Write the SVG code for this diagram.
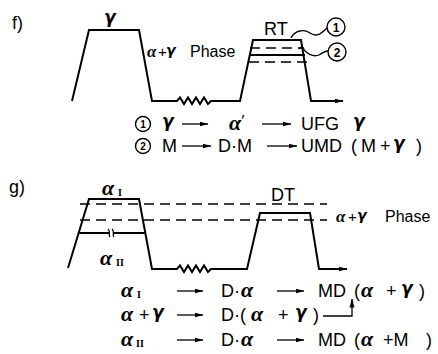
<svg xmlns="http://www.w3.org/2000/svg" width="438" height="354" viewBox="0 0 438 354">
<style>
.ln{fill:none;stroke:#000;stroke-width:2;stroke-linejoin:miter}
.th{fill:none;stroke:#000;stroke-width:1.3}
.ds{fill:none;stroke:#000;stroke-width:1.4;stroke-dasharray:10 6}
.t{font-family:"Liberation Sans",Arial,sans-serif;font-size:18px;fill:#000}
.g{font-family:"DejaVu Sans",sans-serif;font-style:italic;font-weight:bold;font-size:17px;fill:#000}
.a{font-family:"Liberation Serif","Times New Roman",serif;font-style:italic;font-weight:bold;font-size:22px;fill:#000}
.r{font-family:"Liberation Serif",serif;font-weight:bold;font-size:10px;fill:#000}
.ar{fill:none;stroke:#000;stroke-width:1.3;marker-end:url(#ah)}
.c{fill:none;stroke:#000;stroke-width:1.4}
.n{font-family:"Liberation Sans",Arial,sans-serif;font-size:12px;font-weight:bold;fill:#000;text-anchor:middle}
</style>
<defs>
<marker id="ah" markerWidth="9" markerHeight="6" refX="8.5" refY="3" orient="auto" markerUnits="userSpaceOnUse">
<path d="M0,0.5 L9,3 L0,5.5 Z" fill="#000"/>
</marker>
</defs>

<g id="panel-f">
<text class="t" x="12" y="29">f)</text>
<text class="g" x="104" y="23">γ</text>
<path class="ln" d="M72,101 L89,30 L139,30 L152,101 L177,101 L180,97.5 L184,104 L188,97.5 L192,104 L196,97.5 L200,104 L204,97.5 L208,104 L211,101 L240,101 L253,40 L301,40 L311,101 L343,101" marker-end="url(#ah)"/>
<path class="ds" d="M250,48 H304"/>
<path class="th" d="M249,55 H305" style="stroke-width:1.8"/>
<path class="ds" d="M249,62 H313"/>
<text class="a" x="147" y="57" style="font-size:17px">α</text>
<text class="t" x="158" y="57" style="font-size:15px">+</text>
<text class="g" x="166" y="55" style="font-size:14px">γ</text>
<text class="t" x="190" y="57" style="font-size:16px">Phase</text>
<text class="t" x="264" y="35">RT</text>
<g id="callout-1">
<circle class="c" cx="336" cy="27" r="9"/>
<text class="n" x="336" y="32">1</text>
<path class="th" d="M291,38 C295,30 304,29 310,33 C316,37 320,35 327,28"/>
</g>
<g id="callout-2">
<circle class="c" cx="337" cy="52" r="9"/>
<text class="n" x="337" y="57">2</text>
<path class="th" d="M299,49 C302,46 304,47 304,50 C309,55 314,57 319,55 C322,53 325,51 328,51"/>
</g>
<g id="f-line1">
<circle class="c" cx="143" cy="124" r="7.5"/>
<text class="n" x="143" y="128" style="font-size:10px">1</text>
<text class="g" x="162" y="127">γ</text>
<path class="ar" d="M182,124 H208"/>
<text class="a" x="229" y="130">α<tspan font-style="normal" font-weight="normal" font-size="17" dy="-4">′</tspan></text>
<path class="ar" d="M262,124 H291"/>
<text class="t" x="301" y="130">UFG</text>
<text class="g" x="353" y="127">γ</text>
</g>
<g id="f-line2">
<circle class="c" cx="143" cy="146" r="7.5"/>
<text class="n" x="143" y="150" style="font-size:10px">2</text>
<text class="t" x="162" y="152">M</text>
<path class="ar" d="M182,146 H211"/>
<text class="t" x="218" y="152">D·M</text>
<path class="ar" d="M267,146 H297"/>
<text class="t" x="301" y="152">UMD<tspan x="351">(</tspan><tspan x="361">M</tspan><tspan x="380">+</tspan></text>
<text class="g" x="393" y="149">γ</text>
<text class="t" x="416" y="152">)</text>
</g>
</g>

<g id="panel-g">
<text class="t" x="9" y="193">g)</text>
<text class="a" x="102" y="195">α</text>
<text class="r" x="118" y="196">I</text>
<text class="a" x="100" y="265">α</text>
<text class="r" x="116" y="266">II</text>
<path class="ln" d="M68,268 L89,199 L139,199 L152,269 L177,269 L180,265.5 L184,272 L188,265.5 L192,272 L196,265.5 L200,272 L204,265.5 L208,272 L211,269 L247,269 L260,213 L310,213 L319,269 L347,269" marker-end="url(#ah)"/>
<path class="ds" d="M80,204 H327"/>
<path class="ds" d="M80,220 H327"/>
<path class="th" d="M79,233 H109 M114,233 H145" style="stroke-width:1.8"/>
<path class="th" d="M108,229 C111,231 108,235 110,237 M112,229 C115,231 112,235 114,237"/>
<text class="t" x="271" y="201">DT</text>
<text class="a" x="336" y="222" style="font-size:17px">α</text>
<text class="t" x="348" y="222" style="font-size:15px">+</text>
<text class="g" x="357" y="220" style="font-size:14px">γ</text>
<text class="t" x="385" y="222" style="font-size:16px">Phase</text>
<g id="g-line1">
<text class="a" x="121" y="297">α</text>
<text class="r" x="137" y="298">I</text>
<path class="ar" d="M177,291 H203"/>
<text class="t" x="221" y="297">D·</text>
<text class="a" x="241" y="297">α</text>
<path class="ar" d="M277,291 H304"/>
<text class="t" x="318" y="297">MD<tspan x="354">(</tspan></text>
<text class="a" x="361" y="297">α</text>
<text class="t" x="386" y="297">+</text>
<text class="g" x="401" y="294">γ</text>
<text class="t" x="419" y="297">)</text>
</g>
<g id="g-line2">
<text class="a" x="121" y="321">α</text>
<text class="t" x="139" y="321">+</text>
<text class="g" x="152" y="318">γ</text>
<path class="ar" d="M177,315 H203"/>
<text class="t" x="221" y="321">D·(</text>
<text class="a" x="251" y="321">α</text>
<text class="t" x="278" y="321">+</text>
<text class="g" x="295" y="318">γ</text>
<text class="t" x="313" y="321">)</text>
<path class="ar" d="M323,316 H352 V299"/>
</g>
<g id="g-line3">
<text class="a" x="121" y="346">α</text>
<text class="r" x="136" y="347">II</text>
<path class="ar" d="M177,340 H203"/>
<text class="t" x="221" y="346">D·</text>
<text class="a" x="241" y="346">α</text>
<path class="ar" d="M277,340 H304"/>
<text class="t" x="318" y="346">MD<tspan x="354">(</tspan></text>
<text class="a" x="361" y="346">α</text>
<text class="t" x="383" y="346">+M<tspan x="426">)</tspan></text>
</g>
</g>
</svg>
